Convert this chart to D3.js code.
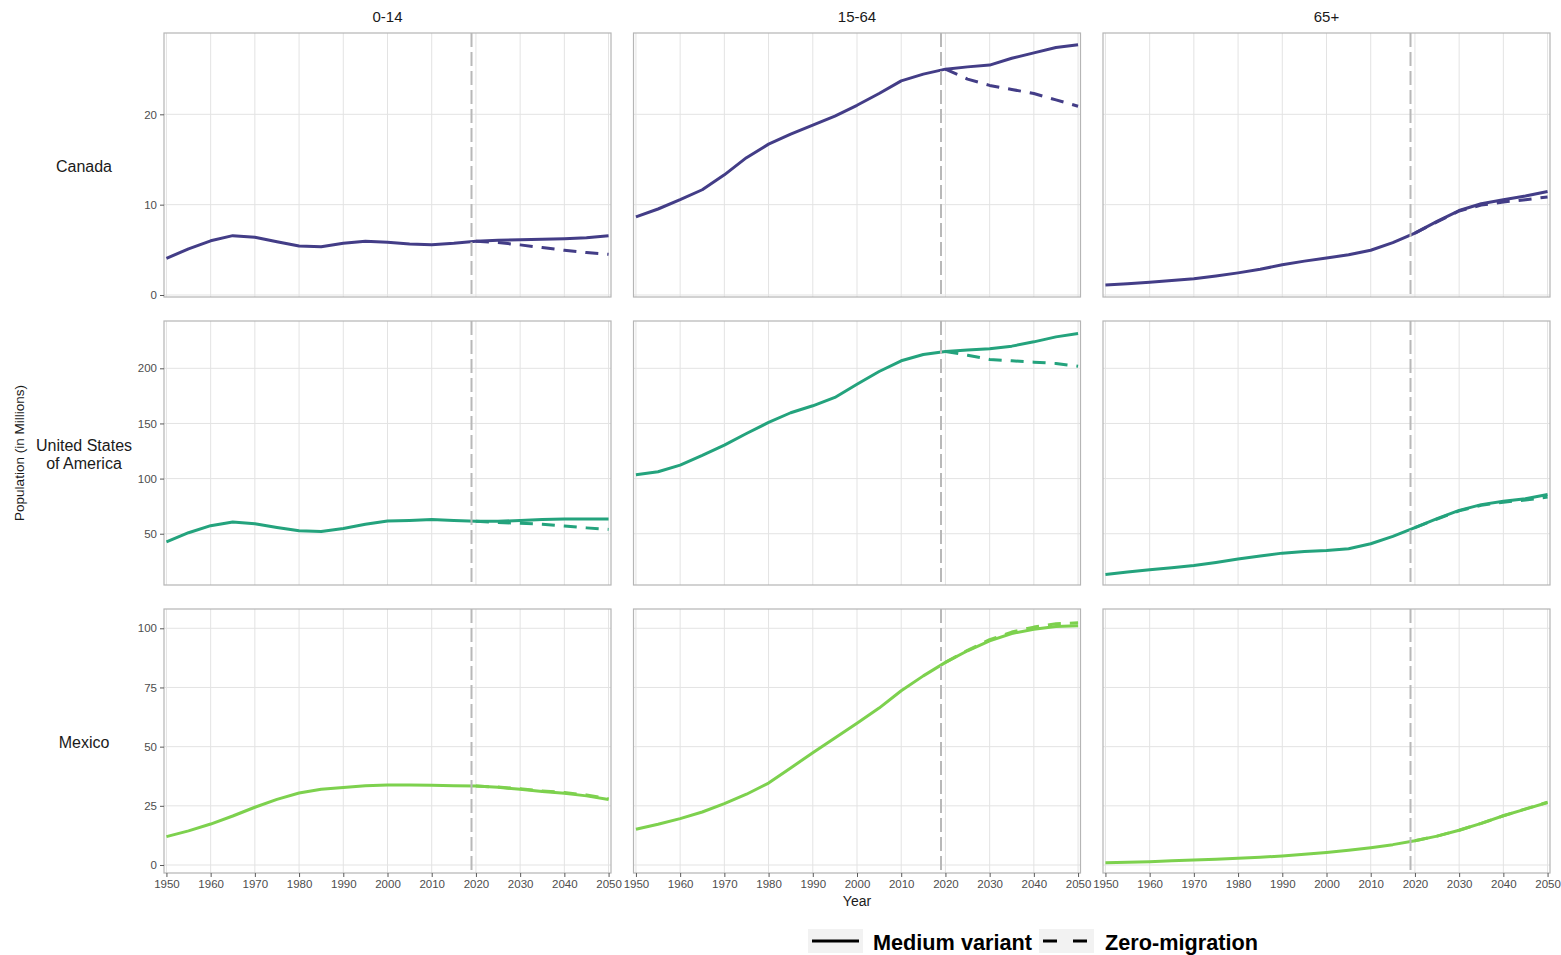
<!DOCTYPE html>
<html>
<head>
<meta charset="utf-8">
<script src="https://cdn.jsdelivr.net/npm/d3@7"></script>
<style>
  body { margin: 0; background: #fff; }
  svg { display: block; font-family: "Liberation Sans", Arial, sans-serif; }
</style>
</head>
<body>
<svg id="chart" width="1561" height="955"></svg>
<script>
// ---- data (population in millions) ----
const years = [1950, 1955, 1960, 1965, 1970, 1975, 1980, 1985, 1990, 1995, 2000,
               2005, 2010, 2015, 2020, 2025, 2030, 2035, 2040, 2045, 2050];
const projYears = [2020, 2025, 2030, 2035, 2040, 2045, 2050];
const ageGroups = ["0-14", "15-64", "65+"];
const countries = ["Canada", "United States of America", "Mexico"];
const countryLabelLines = [["Canada"], ["United States", "of America"], ["Mexico"]];
const xTicks = [1950, 1960, 1970, 1980, 1990, 2000, 2010, 2020, 2030, 2040, 2050];
const yTicksCanada = [0, 10, 20];
const yTicksUSA = [50, 100, 150, 200];
const yTicksMexico = [0, 25, 50, 75, 100];
const baseYear = 2019;
const variantNames = ["Medium variant", "Zero-migration"];
const countryColors = ["#433d87", "#24a37d", "#7dd14e"];

// Medium variant
const canada014  = [4.06, 5.1, 6.0, 6.57, 6.4, 5.9, 5.42, 5.35, 5.72, 5.94, 5.83, 5.65, 5.57, 5.72, 5.94, 6.05, 6.13, 6.16, 6.24, 6.35, 6.57];
const canada1564 = [8.64, 9.52, 10.55, 11.65, 13.3, 15.2, 16.7, 17.8, 18.8, 19.8, 21.0, 22.3, 23.7, 24.45, 25.0, 25.25, 25.45, 26.2, 26.8, 27.4, 27.7];
const canada65   = [1.1, 1.25, 1.4, 1.6, 1.8, 2.1, 2.45, 2.85, 3.35, 3.75, 4.1, 4.45, 4.95, 5.8, 6.85, 8.15, 9.35, 10.1, 10.55, 10.95, 11.45];
const usa014     = [42.7, 50.9, 57.3, 60.6, 59.1, 55.7, 52.7, 52.1, 54.8, 58.5, 61.5, 62.1, 63.0, 62.1, 61.2, 61.2, 62.1, 63.0, 63.3, 63.3, 63.3];
const usa1564    = [103.5, 106.2, 112.2, 121.0, 130.4, 140.9, 150.9, 159.7, 166.0, 173.6, 185.6, 197.1, 206.8, 212.5, 215.3, 216.5, 217.7, 220.1, 224.0, 228.5, 231.6];
const usa65      = [13.0, 15.2, 17.3, 19.1, 21.2, 23.9, 27.0, 29.7, 32.4, 33.9, 34.8, 36.4, 40.9, 47.6, 55.5, 63.6, 71.2, 76.4, 79.4, 81.8, 85.5];
const mexico014  = [12.0, 14.4, 17.3, 20.7, 24.4, 27.7, 30.4, 32.0, 32.7, 33.5, 33.8, 33.8, 33.7, 33.5, 33.4, 32.8, 32.0, 31.1, 30.3, 29.2, 27.7];
const mexico1564 = [15.1, 17.2, 19.6, 22.4, 25.9, 29.9, 34.6, 41.0, 47.4, 53.7, 59.9, 66.3, 73.6, 79.9, 85.6, 90.5, 94.7, 97.8, 99.6, 100.8, 101.1];
const mexico65   = [1.0, 1.2, 1.4, 1.75, 2.1, 2.45, 2.8, 3.25, 3.8, 4.5, 5.3, 6.2, 7.3, 8.6, 10.25, 12.2, 14.7, 17.6, 20.8, 23.6, 26.4];

// Zero-migration projection
const canada014Zero  = [5.94, 5.8, 5.55, 5.25, 4.95, 4.7, 4.5];
const canada1564Zero = [25.0, 23.9, 23.2, 22.75, 22.3, 21.6, 20.9];
const canada65Zero   = [6.85, 8.1, 9.3, 9.95, 10.3, 10.55, 10.85];
const usa014Zero     = [61.2, 60.2, 59.5, 58.6, 56.9, 55.3, 53.9];
const usa1564Zero    = [215.3, 211.9, 208.0, 206.8, 205.6, 204.4, 201.8];
const usa65Zero      = [55.5, 63.3, 70.7, 75.7, 78.6, 80.6, 83.2];
const mexico014Zero  = [33.4, 32.9, 32.2, 31.3, 30.6, 29.6, 28.0];
const mexico1564Zero = [85.6, 90.7, 95.2, 98.4, 100.5, 101.9, 102.3];
const mexico65Zero   = [10.25, 12.2, 14.7, 17.6, 20.8, 23.7, 26.5];

const medium = [
  [canada014, canada1564, canada65],
  [usa014, usa1564, usa65],
  [mexico014, mexico1564, mexico65]
];
const zeroMig = [
  [canada014Zero, canada1564Zero, canada65Zero],
  [usa014Zero, usa1564Zero, usa65Zero],
  [mexico014Zero, mexico1564Zero, mexico65Zero]
];
const yTicksByRow = [yTicksCanada, yTicksUSA, yTicksMexico];
// free y scale per row (limits include a small expansion around the data)
const yDomains = [[-0.22, 29.0], [3.5, 242.9], [-3.38, 108.15]];

// ---- layout ----
const svg = d3.select("#chart");
const panelW = 447, panelH = 264;
const colX = [164, 633.5, 1103];
const rowY = [33, 321, 609];
const gridColor = "#e3e3e3";
const borderColor = "#b5b5b5";
const textGray = "#4d4d4d";

const x = d3.scaleLinear().domain([1949.45, 2050.55]).range([0, panelW]);

const lineGen = (yScale) => d3.line()
  .x(d => x(d[0]))
  .y(d => yScale(d[1]));

countries.forEach((country, r) => {
  const y = d3.scaleLinear().domain(yDomains[r]).range([panelH, 0]);
  ageGroups.forEach((age, c) => {
    const g = svg.append("g").attr("transform", `translate(${colX[c]},${rowY[r]})`);

    g.append("rect").attr("width", panelW).attr("height", panelH).attr("fill", "#fff");

    // grid
    g.selectAll(".vg").data(xTicks).join("line")
      .attr("x1", d => x(d)).attr("x2", d => x(d))
      .attr("y1", 0).attr("y2", panelH)
      .attr("stroke", gridColor).attr("stroke-width", 1);
    g.selectAll(".hg").data(yTicksByRow[r]).join("line")
      .attr("x1", 0).attr("x2", panelW)
      .attr("y1", d => y(d)).attr("y2", d => y(d))
      .attr("stroke", gridColor).attr("stroke-width", 1);

    const color = countryColors[r];
    const medPts = years.map((yr, i) => [yr, medium[r][c][i]]);
    const zeroPts = projYears.map((yr, i) => [yr, zeroMig[r][c][i]]);

    g.append("path").datum(medPts)
      .attr("d", lineGen(y))
      .attr("fill", "none").attr("stroke", color)
      .attr("stroke-width", 3).attr("stroke-linejoin", "round");
    g.append("path").datum(zeroPts)
      .attr("d", lineGen(y))
      .attr("fill", "none").attr("stroke", color)
      .attr("stroke-width", 3).attr("stroke-linejoin", "round")
      .attr("stroke-dasharray", "13,9");

    // reference year marker
    g.append("line")
      .attr("x1", x(baseYear)).attr("x2", x(baseYear))
      .attr("y1", 0).attr("y2", panelH)
      .attr("stroke", "#b8b8b8").attr("stroke-width", 2)
      .attr("stroke-dasharray", "14,5");

    g.append("rect").attr("width", panelW).attr("height", panelH)
      .attr("fill", "none").attr("stroke", borderColor).attr("stroke-width", 1.2);

    // y axis on first column
    if (c === 0) {
      const ax = g.append("g").call(
        d3.axisLeft(y).tickValues(yTicksByRow[r]).tickSize(4).tickPadding(3).tickSizeOuter(0)
      );
      ax.select(".domain").remove();
      ax.selectAll(".tick line").attr("stroke", "#5a5a5a");
      ax.selectAll(".tick text").attr("fill", textGray)
        .style("font-size", "11.5px").style("font-family", "'Liberation Sans', Arial, sans-serif");
    }
    // x axis on last row
    if (r === countries.length - 1) {
      const ax = g.append("g").attr("transform", `translate(0,${panelH})`).call(
        d3.axisBottom(x).tickValues(xTicks).tickFormat(d3.format("d"))
          .tickSize(4).tickPadding(3).tickSizeOuter(0)
      );
      ax.select(".domain").remove();
      ax.selectAll(".tick line").attr("stroke", "#5a5a5a");
      ax.selectAll(".tick text").attr("fill", textGray)
        .style("font-size", "11.5px").style("font-family", "'Liberation Sans', Arial, sans-serif");
    }
  });
});

// column strips
ageGroups.forEach((age, c) => {
  svg.append("text")
    .attr("x", colX[c] + panelW / 2).attr("y", 22)
    .attr("text-anchor", "middle")
    .attr("fill", "#1a1a1a").style("font-size", "15px")
    .text(age);
});

// row strips
countryLabelLines.forEach((lines, r) => {
  const cy = rowY[r] + panelH / 2 + 1;
  const t = svg.append("text")
    .attr("text-anchor", "middle").attr("fill", "#1a1a1a").style("font-size", "16px");
  lines.forEach((ln, i) => {
    t.append("tspan")
      .attr("x", 84)
      .attr("y", cy + (i - (lines.length - 1) / 2) * 18)
      .attr("dy", "0.35em")
      .text(ln);
  });
});

// axis titles
svg.append("text")
  .attr("transform", "translate(19,453) rotate(-90)")
  .attr("text-anchor", "middle").attr("dy", "0.35em")
  .attr("fill", "#1a1a1a").style("font-size", "13.5px")
  .text("Population (in Millions)");
svg.append("text")
  .attr("x", 857).attr("y", 906)
  .attr("text-anchor", "middle")
  .attr("fill", "#1a1a1a").style("font-size", "14px")
  .text("Year");

// legend
const legend = svg.append("g");
const keyX = [808, 1039];
const labelX = [873, 1105];
const labelW = [159, 153];
variantNames.forEach((name, i) => {
  legend.append("rect")
    .attr("x", keyX[i]).attr("y", 929).attr("width", 55).attr("height", 24)
    .attr("fill", "#f2f2f2");
  legend.append("line")
    .attr("x1", keyX[i] + 4).attr("x2", keyX[i] + 51)
    .attr("y1", 941).attr("y2", 941)
    .attr("stroke", "#000").attr("stroke-width", 3)
    .attr("stroke-dasharray", i === 0 ? null : "14,16");
  legend.append("text")
    .attr("x", labelX[i]).attr("y", 950)
    .attr("fill", "#000").style("font-size", "22px").style("font-weight", "bold")
    .attr("textLength", labelW[i]).attr("lengthAdjust", "spacingAndGlyphs")
    .text(name);
});
</script>
</body>
</html>
